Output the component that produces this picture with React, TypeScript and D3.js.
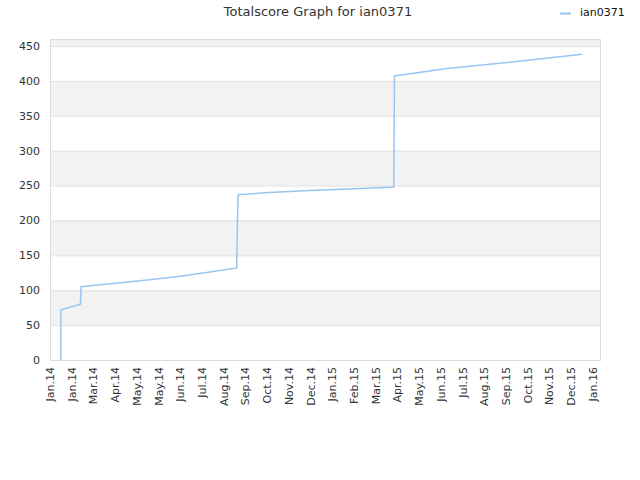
import React from "react";
import * as d3 from "d3";

const title = "Totalscore Graph for ian0371";
const seriesName = "ian0371";
const dates = [
  "2014-01-16", "2014-01-16", "2014-02-12", "2014-02-13", "2014-04-01", "2014-05-19",
  "2014-06-30", "2014-08-03", "2014-09-16", "2014-09-17", "2014-09-18", "2014-10-31",
  "2014-12-26", "2015-02-19", "2015-04-21", "2015-04-22", "2015-07-06", "2015-10-11",
  "2016-01-06",
];
const values = [
  0, 72, 80, 105, 110, 115,
  120, 125, 132, 201, 237, 240,
  243, 245, 248, 407, 418, 428,
  438,
];
const yTicks = [0, 50, 100, 150, 200, 250, 300, 350, 400, 450];
const domainStart = "2014-01-01";
const domainEnd = "2016-01-31";
const tickStepDays = 30;

export default function App() {
  const W = 640, H = 480;
  const left = 50, right = 600, top = 39, bottom = 360;
  const parse = d3.utcParse("%Y-%m-%d");
  const x = d3.scaleUtc().domain([parse(domainStart)!, parse(domainEnd)!]).range([left, right]);
  const y = d3.scaleLinear().domain([0, 460]).range([bottom, top]);
  const xTicks = d3.utcDay.every(tickStepDays) ? d3.range(0, 26).map((i) => d3.utcDay.offset(parse(domainStart)!, i * tickStepDays)) : [];
  const fmt = d3.utcFormat("%b.%y");
  const data = dates.map((d, i) => ({ d: parse(d)!, v: values[i] }));
  const line = d3.line<{ d: Date; v: number }>().x((p) => x(p.d)).y((p) => y(p.v));
  const bands = d3.range(0, 460, 50);
  const font = "DejaVu Sans, Verdana, sans-serif";
  return (
    <svg width={W} height={H} style={{ position: "absolute", left: 0, top: 0, background: "#fff" }} fontFamily={font}>
      {bands.map((b, i) => (
        <rect key={b} x={left} width={right - left} y={y(Math.min(b + 50, 460))} height={y(b) - y(Math.min(b + 50, 460))}
          fill={i % 2 === 1 ? "#f2f2f2" : "#ffffff"} />
      ))}
      {yTicks.map((t) => (
        <line key={t} x1={left} x2={right} y1={y(t) + 0.5} y2={y(t) + 0.5} stroke="#e0e0e0" strokeWidth={1} />
      ))}
      <rect x={left + 0.5} y={top + 0.5} width={right - left} height={bottom - top} fill="none" stroke="#dcdcdc" strokeWidth={1} />
      {yTicks.map((t) => (
        <text key={t} x={left - 10} y={y(t)} dy="0.35em" textAnchor="end" fontSize={11} fill="#333">{t}</text>
      ))}
      {xTicks.map((t, i) => (
        <text key={i} transform={`translate(${x(t) + 4},${bottom + 7}) rotate(-90)`} textAnchor="end" fontSize={11} fill="#333">{fmt(t)}</text>
      ))}
      <path d={line(data) ?? ""} fill="none" stroke="#99c5f2" strokeWidth={1.5} />
      <text x={318} y={16} textAnchor="middle" fontSize={13} fill="#333">{title}</text>
      <line x1={560} x2={571} y1={13.5} y2={13.5} stroke="#99c5f2" strokeWidth={2} />
      <text x={580} y={16} fontSize={11} fill="#111">{seriesName}</text>
    </svg>
  );
}
